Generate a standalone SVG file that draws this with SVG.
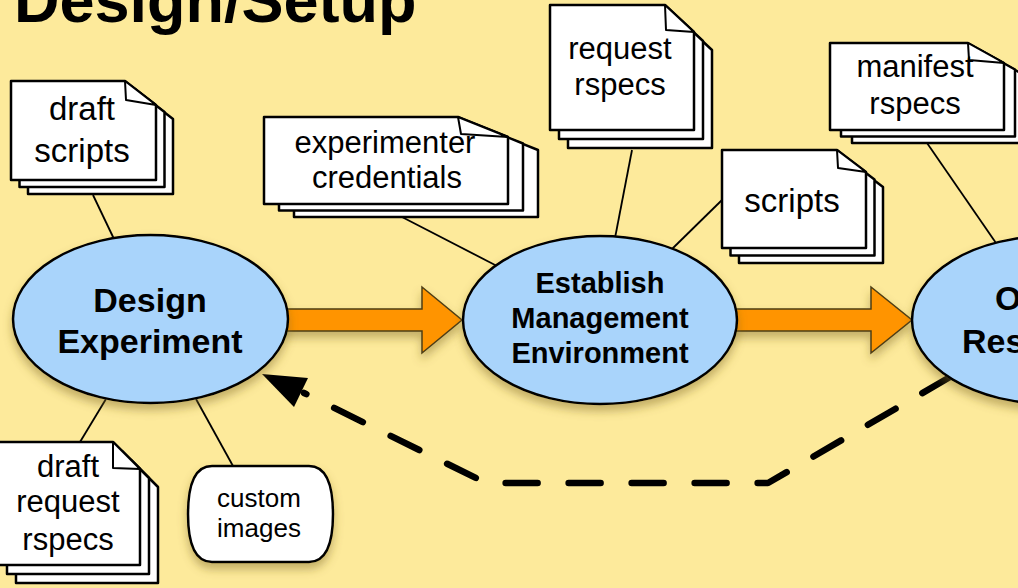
<svg xmlns="http://www.w3.org/2000/svg" width="1018" height="588" viewBox="0 0 1018 588">
<defs>
<filter id="sh" x="-20%" y="-20%" width="140%" height="150%">
<feDropShadow dx="0" dy="6" stdDeviation="5" flood-color="#7a6620" flood-opacity="0.45"/>
</filter>
<style>
.bg{fill:#FDEA9B}
.pg{fill:#fff;stroke:#000;stroke-width:2.5;stroke-linejoin:round}
.fold{fill:#fff;stroke:#000;stroke-width:2;stroke-linejoin:round}
.el{fill:#A9D4FB;stroke:#000;stroke-width:2.5}
.ln{stroke:#000;stroke-width:1.8;fill:none}
.big{fill:#FF9400;stroke:#4d3d14;stroke-width:1.5;stroke-linejoin:miter}
.dash{stroke:#000;stroke-width:6.5;fill:none;stroke-dasharray:32 31;stroke-linecap:round;stroke-linejoin:round}
.t{font-family:"Liberation Sans",Arial,Helvetica,sans-serif;fill:#000;text-anchor:middle}
.b{font-weight:bold}
.title{font-family:"Liberation Sans",Arial,Helvetica,sans-serif;font-weight:bold;font-size:63px;fill:#000}
</style>
</defs>
<rect class="bg" x="0" y="0" width="1018" height="588"/>
<text class="title" x="14" y="22">Design/Setup</text>

<g id="connectors">
<line class="ln" x1="93" y1="195" x2="114" y2="239"/>
<line class="ln" x1="402" y1="217" x2="497" y2="266"/>
<line class="ln" x1="632" y1="150" x2="615" y2="238"/>
<line class="ln" x1="722" y1="200" x2="672" y2="249"/>
<line class="ln" x1="927" y1="143" x2="996" y2="243"/>
<line class="ln" x1="80" y1="442" x2="106" y2="399"/>
<line class="ln" x1="233" y1="466" x2="196" y2="399"/>
<path class="big" filter="url(#sh)" d="M280 309 H422 V287 L462 320 L422 353 V331 H280 Z"/>
<path class="big" filter="url(#sh)" d="M730 309 H871 V287 L912 320 L871 353 V331 H730 Z"/>
<path class="dash" d="M950 377 L768 483 L486 483 L304 393"/>
<polygon points="262,374 308,378 294,407" fill="#000"/>
</g>

<g id="design-experiment">
<ellipse class="el" filter="url(#sh)" cx="150.5" cy="319" rx="137.5" ry="84"/>
<text class="t b" font-size="34" x="150" y="312">Design</text>
<text class="t b" font-size="34" x="150" y="353">Experiment</text>
</g>

<g id="establish-management-environment">
<ellipse class="el" filter="url(#sh)" cx="600" cy="320" rx="137" ry="84"/>
<text class="t b" font-size="29" x="600" y="293">Establish</text>
<text class="t b" font-size="29" x="600" y="328">Management</text>
<text class="t b" font-size="29" x="600" y="363">Environment</text>
</g>

<g id="obtain-resources">
<ellipse class="el" filter="url(#sh)" cx="1050" cy="320" rx="138" ry="84"/>
<text class="b" font-family="Liberation Sans, Arial, sans-serif" font-size="34" x="995" y="310">O</text>
<text class="b" font-family="Liberation Sans, Arial, sans-serif" font-size="34" x="962" y="353">Res</text>
</g>

<g id="draft-scripts">
<path class="pg" d="M28 95 H142 L173 119 V194 H28 Z"/>
<path class="pg" d="M19.5 88 H133.5 L164.5 112 V187 H19.5 Z"/>
<path class="pg" d="M11 81 H125 L156 105 V180 H11 Z"/>
<path class="fold" d="M125 81 L126 100 L156 105 Z"/>
<text class="t" font-size="33" x="82" y="120">draft</text>
<text class="t" font-size="33" x="82" y="162">scripts</text>
</g>

<g id="experimenter-credentials">
<path class="pg" d="M294 130 H488 L538 150 V217 H294 Z"/>
<path class="pg" d="M279 123.5 H473 L523 143.5 V210.5 H279 Z"/>
<path class="pg" d="M264 117 H458 L508 137 V204 H264 Z"/>
<path class="fold" d="M458 117 L461 134 L508 137 Z"/>
<text class="t" font-size="31" x="385" y="153">experimenter</text>
<text class="t" font-size="31" x="387" y="188">credentials</text>
</g>

<g id="request-rspecs">
<path class="pg" d="M568 23 H683 L712 50 V148 H568 Z"/>
<path class="pg" d="M559 14 H674 L703 41 V139 H559 Z"/>
<path class="pg" d="M550 5 H665 L694 32 V130 H550 Z"/>
<path class="fold" d="M665 5 L666 30 L694 32 Z"/>
<text class="t" font-size="31" x="620" y="59">request</text>
<text class="t" font-size="31" x="620" y="95">rspecs</text>
</g>

<g id="scripts">
<path class="pg" d="M739 165 H854 L883 187 V263 H739 Z"/>
<path class="pg" d="M730.5 157.5 H845.5 L874.5 179.5 V255.5 H730.5 Z"/>
<path class="pg" d="M722 150 H837 L866 172 V248 H722 Z"/>
<path class="fold" d="M837 150 L838 168 L866 172 Z"/>
<text class="t" font-size="33" x="792" y="212">scripts</text>
</g>

<g id="manifest-rspecs">
<path class="pg" d="M852 56 H990 L1026 76 V143 H852 Z"/>
<path class="pg" d="M841 49.5 H979 L1015 69.5 V136.5 H841 Z"/>
<path class="pg" d="M830 43 H968 L1004 63 V130 H830 Z"/>
<path class="fold" d="M968 43 L969 60 L1004 63 Z"/>
<text class="t" font-size="31" x="915" y="77">manifest</text>
<text class="t" font-size="31" x="915" y="114">rspecs</text>
</g>

<g id="draft-request-rspecs">
<path class="pg" d="M16 460 H131 L158 487 V583 H16 Z"/>
<path class="pg" d="M7 451 H122 L149 478 V574 H7 Z"/>
<path class="pg" d="M-2 442 H113 L140 469 V565 H-2 Z"/>
<path class="fold" d="M113 442 L113 468 L140 469 Z"/>
<text class="t" font-size="31" x="68" y="477">draft</text>
<text class="t" font-size="31" x="68" y="512">request</text>
<text class="t" font-size="31" x="68" y="550">rspecs</text>
</g>

<g id="custom-images">
<path class="pg" filter="url(#sh)" d="M212 466 H309 C328 466 333 490 333 514 C333 538 328 562 309 562 H212 C193 562 188 538 188 514 C188 490 193 466 212 466 Z"/>
<text class="t" font-size="26" x="259" y="507">custom</text>
<text class="t" font-size="26" x="259" y="537">images</text>
</g>
</svg>
